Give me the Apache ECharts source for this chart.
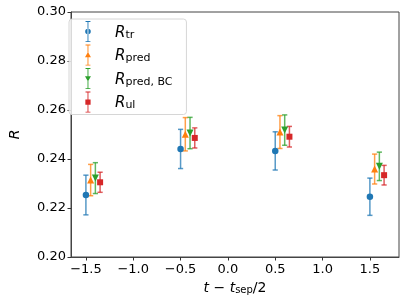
<!DOCTYPE html>
<html><head><meta charset="utf-8">
<script src="https://cdn.jsdelivr.net/npm/echarts@6/dist/echarts.min.js"></script>
<style>html,body{margin:0;padding:0;background:#fff}#c{width:407px;height:303px}</style>
</head><body><div id="c"></div>
<script>
// data
const tPositions = [-1.5, -0.5, 0.5, 1.5];
const seriesNames = ['R_tr', 'R_pred', 'R_pred,BC', 'R_ul'];
const xOffsets = [0, 0.05, 0.10, 0.15];
const R_tr      = [0.2253, 0.2441, 0.2433, 0.2246];
const R_tr_err  = [0.0081, 0.0080, 0.0078, 0.0076];
const R_pred     = [0.2314, 0.2501, 0.2510, 0.2359];
const R_pred_err = [0.0064, 0.0068, 0.0067, 0.0061];
const R_predBC     = [0.2322, 0.2506, 0.2518, 0.2370];
const R_predBC_err = [0.0063, 0.0064, 0.0062, 0.0058];
const R_ul     = [0.2305, 0.2486, 0.2491, 0.2334];
const R_ul_err = [0.0041, 0.0041, 0.0042, 0.0040];
const xTicks = [-1.5, -1.0, -0.5, 0.0, 0.5, 1.0, 1.5];
const yTicks = [0.20, 0.22, 0.24, 0.26, 0.28, 0.30];

const values = [R_tr, R_pred, R_predBC, R_ul];
const errs = [R_tr_err, R_pred_err, R_predBC_err, R_ul_err];
const colors = ['#1f77b4', '#ff7f0e', '#2ca02c', '#d62728'];
const symbols = ['circle', 'triangle', 'path://M0,0 L10,0 L5,9 Z', 'rect'];
const symSizes = [6.5, 7, 7, 6];
const legendLabels = ['{i|R}{s|tr}', '{i|R}{s|pred}', '{i|R}{s|pred, BC}', '{i|R}{s|ul}'];
const markerPaths = [
  'M4.5,0 H5.5 V24 H4.5 Z M2.2,0 H7.8 V1 H2.2 Z M2.2,23 H7.8 V24 H2.2 Z M5,8.8 A3.2,3.2 0 1 0 5,15.2 A3.2,3.2 0 1 0 5,8.8 Z',
  'M4.5,0 H5.5 V24 H4.5 Z M2.2,0 H7.8 V1 H2.2 Z M2.2,23 H7.8 V24 H2.2 Z M5,8.6 L8.4,14.6 L1.6,14.6 Z',
  'M4.5,0 H5.5 V24 H4.5 Z M2.2,0 H7.8 V1 H2.2 Z M2.2,23 H7.8 V24 H2.2 Z M1.6,9.4 L8.4,9.4 L5,15.4 Z',
  'M4.5,0 H5.5 V24 H4.5 Z M2.2,0 H7.8 V1 H2.2 Z M2.2,23 H7.8 V24 H2.2 Z M2,9 H8 V15 H2 Z'
];

const fmt = v => {
  const s = Math.abs(v).toFixed(1);
  return (v < -1e-9 ? '\u2212' : '') + s;
};

const series = [];
values.forEach((vals, k) => {
  const errData = tPositions.map((t, i) => [t + xOffsets[k], vals[i] - errs[k][i], vals[i] + errs[k][i]]);
  series.push({
    name: seriesNames[k], type: 'custom', z: 2,
    data: errData,
    encode: { x: 0, y: [1, 2] },
    renderItem: (params, api) => {
      const x = api.value(0);
      const lo = api.coord([x, api.value(1)]);
      const hi = api.coord([x, api.value(2)]);
      const st = { stroke: colors[k], lineWidth: 1.5, opacity: 0.75 };
      const cw = 2.6;
      return { type: 'group', children: [
        { type: 'line', shape: { x1: lo[0], y1: lo[1], x2: hi[0], y2: hi[1] }, style: st },
        { type: 'line', shape: { x1: lo[0] - cw, y1: lo[1], x2: lo[0] + cw, y2: lo[1] }, style: st },
        { type: 'line', shape: { x1: hi[0] - cw, y1: hi[1], x2: hi[0] + cw, y2: hi[1] }, style: st }
      ]};
    },
    silent: true
  });
  series.push({
    name: seriesNames[k], type: 'scatter', z: 3,
    symbol: symbols[k], symbolSize: symSizes[k],
    itemStyle: { color: colors[k], opacity: 1 },
    data: tPositions.map((t, i) => [t + xOffsets[k], vals[i]])
  });
});

const chart = echarts.init(document.getElementById('c'), null, { renderer: 'canvas' });
chart.setOption({
  animation: false,
  color: colors,
  grid: { left: 62, right: 8, top: 12, bottom: 46, show: true, borderColor: '#444', borderWidth: 1 },
  legend: {
    orient: 'vertical', left: 69, top: 19,
    padding: [2, 14, 2, 16],
    itemWidth: 10, itemHeight: 21, itemGap: 2.5,
    backgroundColor: 'rgba(255,255,255,0.8)', borderColor: '#d6d6d6', borderWidth: 1, borderRadius: 3,
    selectedMode: false,
    data: seriesNames.map((n, k) => ({ name: n, icon: 'path://' + markerPaths[k], itemStyle: { color: colors[k] } })),
    formatter: n => legendLabels[seriesNames.indexOf(n)],
    textStyle: {
      padding: [0, 0, 0, 17],
      lineHeight: 18,
      rich: {
        i: { fontFamily: 'DejaVu Sans', fontStyle: 'italic', fontSize: 15, color: '#000', lineHeight: 18, verticalAlign: 'bottom' },
        s: { fontFamily: 'DejaVu Sans', fontSize: 11, color: '#000', lineHeight: 12, verticalAlign: 'bottom', padding: [6, 0, 0, 0] }
      }
    }
  },
  xAxis: {
    type: 'value', min: -1.6575, max: 1.8075,
    splitLine: { show: false },
    axisLine: { onZero: false, lineStyle: { color: '#444' } },
    axisTick: { customValues: xTicks, length: 3.5, lineStyle: { color: '#333' } },
    axisLabel: { customValues: xTicks, formatter: fmt, color: '#000', fontFamily: 'DejaVu Sans', fontSize: 13, margin: 6 },
    name: '{i|t} \u2212 {i|t}{s|sep}/2', nameLocation: 'middle', nameGap: 22,
    nameTextStyle: {
      color: '#000', fontFamily: 'DejaVu Sans', fontSize: 14,
      rich: {
        i: { fontFamily: 'DejaVu Sans', fontStyle: 'italic', fontSize: 14, color: '#000' },
        s: { fontFamily: 'DejaVu Sans', fontSize: 10, color: '#000', padding: [5, 0, 0, 0] }
      }
    }
  },
  yAxis: {
    type: 'value', min: 0.20, max: 0.30, interval: 0.02,
    splitLine: { show: false },
    axisLine: { show: true, onZero: false, lineStyle: { color: '#444' } },
    axisTick: { show: true, length: 3.5, lineStyle: { color: '#333' } },
    axisLabel: { formatter: v => v.toFixed(2), color: '#000', fontFamily: 'DejaVu Sans', fontSize: 13, margin: 5 },
    name: 'R', nameLocation: 'middle', nameGap: 49,
    nameTextStyle: { color: '#000', fontFamily: 'DejaVu Sans', fontStyle: 'italic', fontSize: 14 }
  },
  series: series
});
</script></body></html>
